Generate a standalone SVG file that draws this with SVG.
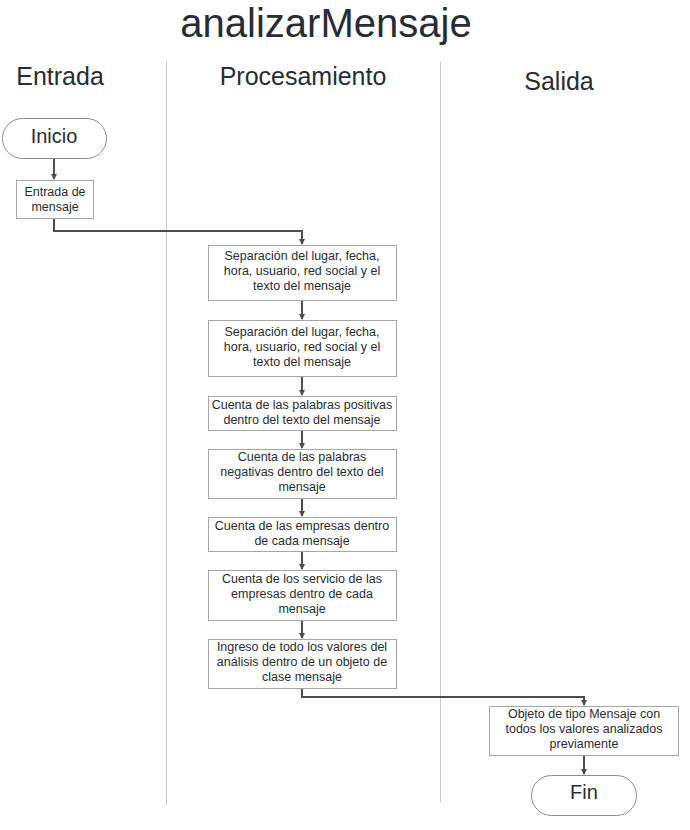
<svg xmlns="http://www.w3.org/2000/svg" width="690" height="830" viewBox="0 0 690 830">
<style>
text{font-family:"Liberation Sans",Arial,sans-serif;fill:#282c33;text-anchor:middle}
.t{font-size:12.5px}
.h{font-size:25px}
.box{fill:#fff;stroke:#a6a6a6;stroke-width:1}
.pill{fill:#fff;stroke:#8a8a8a;stroke-width:1}
.lane{stroke:#c8c8c8;stroke-width:1}
.c{fill:none;stroke:#4d4d4d;stroke-width:2}
</style>
<defs>
<marker id="a" markerWidth="6" markerHeight="6" refX="5" refY="3" orient="auto" markerUnits="userSpaceOnUse">
<path d="M0,0 L6,3 L0,6 z" fill="#4d4d4d"/>
</marker>
</defs>
<rect width="690" height="830" fill="#fff"/>
<text x="326" y="37" style="font-size:40px">analizarMensaje</text>
<g id="lanes">
<line class="lane" x1="166.5" y1="62" x2="166.5" y2="805"/>
<line class="lane" x1="440.5" y1="62" x2="440.5" y2="802"/>
<text class="h" x="60" y="85">Entrada</text>
<text class="h" x="303" y="85">Procesamiento</text>
<text class="h" x="559" y="90">Salida</text>
</g>
<g id="connectors">
<path class="c" d="M54,158 V179" marker-end="url(#a)"/>
<path class="c" d="M54,218 V231 H302 V244" marker-end="url(#a)"/>
<path class="c" d="M302,300 V319" marker-end="url(#a)"/>
<path class="c" d="M302,376 V395" marker-end="url(#a)"/>
<path class="c" d="M302,430 V448" marker-end="url(#a)"/>
<path class="c" d="M302,498 V516" marker-end="url(#a)"/>
<path class="c" d="M302,551 V569" marker-end="url(#a)"/>
<path class="c" d="M302,620 V638" marker-end="url(#a)"/>
<path class="c" d="M302,688 V697 H584 V705" marker-end="url(#a)"/>
<path class="c" d="M584,755 V774" marker-end="url(#a)"/>
</g>
<g id="inicio">
<rect class="pill" x="2.5" y="118.5" width="104" height="40" rx="20"/>
<text x="54" y="143" style="font-size:20px">Inicio</text>
</g>
<g id="entrada">
<rect class="box" x="16.5" y="180.5" width="77" height="38"/>
<text class="t" x="55" y="196">Entrada de</text>
<text class="t" x="55" y="211">mensaje</text>
</g>
<g id="p1">
<rect class="box" x="208.5" y="245.5" width="188" height="55"/>
<text class="t" x="302" y="260">Separación del lugar, fecha,</text>
<text class="t" x="302" y="275">hora, usuario, red social y el</text>
<text class="t" x="302" y="290">texto del mensaje</text>
</g>
<g id="p2">
<rect class="box" x="208.5" y="320.5" width="188" height="56"/>
<text class="t" x="302" y="336">Separación del lugar, fecha,</text>
<text class="t" x="302" y="351">hora, usuario, red social y el</text>
<text class="t" x="302" y="366">texto del mensaje</text>
</g>
<g id="p3">
<rect class="box" x="208.5" y="396.5" width="188" height="34"/>
<text class="t" x="302" y="409">Cuenta de las palabras positivas</text>
<text class="t" x="302" y="424">dentro del texto del mensaje</text>
</g>
<g id="p4">
<rect class="box" x="208.5" y="449.5" width="188" height="49"/>
<text class="t" x="302" y="461">Cuenta de las palabras</text>
<text class="t" x="302" y="476">negativas dentro del texto del</text>
<text class="t" x="302" y="491">mensaje</text>
</g>
<g id="p5">
<rect class="box" x="208.5" y="517.5" width="188" height="34"/>
<text class="t" x="302" y="530">Cuenta de las empresas dentro</text>
<text class="t" x="302" y="545">de cada mensaje</text>
</g>
<g id="p6">
<rect class="box" x="208.5" y="570.5" width="188" height="50"/>
<text class="t" x="302" y="583">Cuenta de los servicio de las</text>
<text class="t" x="302" y="598">empresas dentro de cada</text>
<text class="t" x="302" y="613">mensaje</text>
</g>
<g id="p7">
<rect class="box" x="208.5" y="639.5" width="188" height="49"/>
<text class="t" x="302" y="651">Ingreso de todo los valores del</text>
<text class="t" x="302" y="666">análisis dentro de un objeto de</text>
<text class="t" x="302" y="681">clase mensaje</text>
</g>
<g id="salida">
<rect class="box" x="489.5" y="706.5" width="189" height="49"/>
<text class="t" x="584" y="718">Objeto de tipo Mensaje con</text>
<text class="t" x="584" y="733">todos los valores analizados</text>
<text class="t" x="584" y="748">previamente</text>
</g>
<g id="fin">
<rect class="pill" x="531.5" y="775.5" width="105" height="40" rx="20"/>
<text x="584" y="799" style="font-size:20px">Fin</text>
</g>
</svg>
